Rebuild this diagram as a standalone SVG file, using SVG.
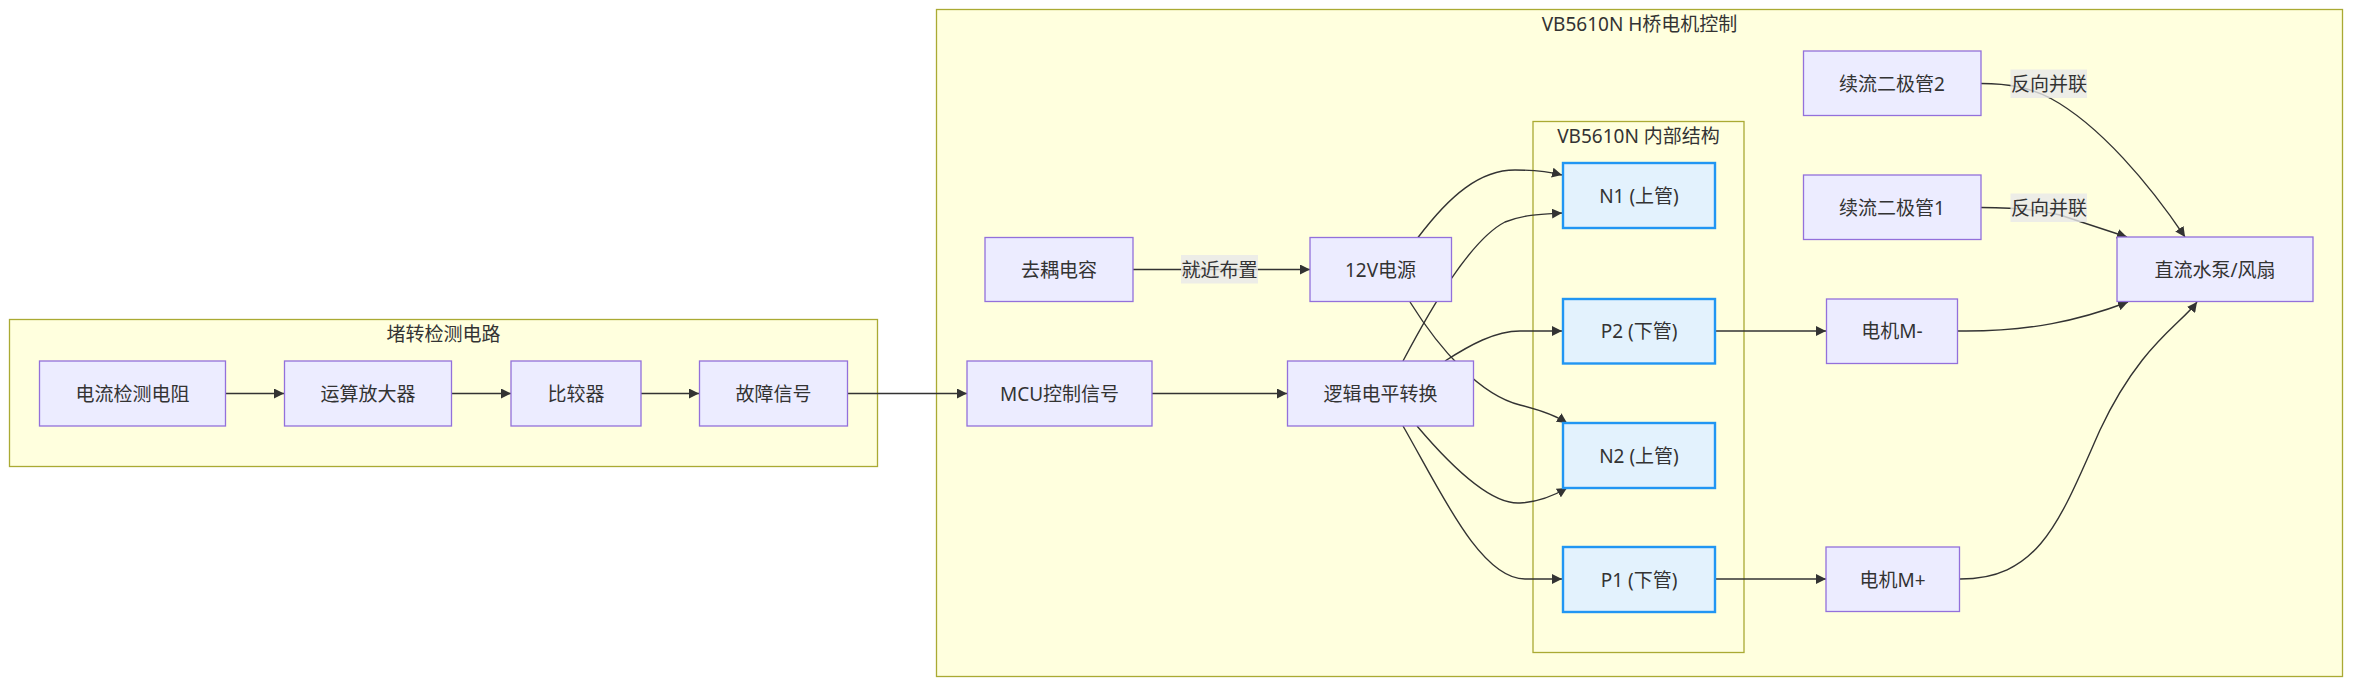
<svg xmlns="http://www.w3.org/2000/svg" width="2368" height="692" viewBox="0 0 2368 692">
<defs>
<style>
.cluster{fill:#ffffde;stroke:#aaaa33;stroke-width:1.3}
.node rect{fill:#ececff;stroke:#9370db;stroke-width:1.3}
.node.blue rect{fill:#e3f2fd;stroke:#2196f3;stroke-width:2.4}
text{font-family:"Noto Sans","Noto Sans CJK SC",sans-serif;font-size:19px;fill:#333333;text-anchor:middle;dominant-baseline:central}
.edge{fill:none;stroke:#333333;stroke-width:1.4}
.lblbg{fill:rgba(232,232,232,0.8)}
</style>
<marker id="arr" viewBox="0 0 10 10" refX="10" refY="5" markerUnits="userSpaceOnUse" markerWidth="10" markerHeight="10" orient="auto">
<path d="M0,0 L10,5 L0,10 z" fill="#333333"/>
</marker>
</defs>
<rect width="2368" height="692" fill="#ffffff"/>
<g id="clusters">
<g id="cluster-stall">
<rect class="cluster" x="9.5" y="319.5" width="868" height="147"/>
<text x="443.5" y="333.5">堵转检测电路</text>
</g>
<g id="cluster-hbridge">
<rect class="cluster" x="936.5" y="9.5" width="1406" height="667"/>
<text x="1639.5" y="23.5">VB5610N H桥电机控制</text>
</g>
<g id="cluster-internal">
<rect class="cluster" x="1533" y="121.5" width="211" height="531"/>
<text x="1638.5" y="135.5">VB5610N 内部结构</text>
</g>
</g>
<g id="connectors">
<path class="edge" d="M226,393.5 L284,393.5" marker-end="url(#arr)"/>
<path class="edge" d="M452,393.5 L511,393.5" marker-end="url(#arr)"/>
<path class="edge" d="M641,393.5 L699,393.5" marker-end="url(#arr)"/>
<path class="edge" d="M848,393.5 L967,393.5" marker-end="url(#arr)"/>
<path class="edge" d="M1152,393.5 L1287,393.5" marker-end="url(#arr)"/>
<path class="edge" d="M1133,269.5 L1310,269.5" marker-end="url(#arr)"/>
<path class="edge" d="M1418,237.5 C1450,195 1480,170 1515,170 C1535,170 1550,172 1562,175" marker-end="url(#arr)"/>
<path class="edge" d="M1403,361 C1430,310 1470,240 1505,222 C1525,214 1545,214 1562,213" marker-end="url(#arr)"/>
<path class="edge" d="M1410,302 C1440,350 1480,395 1520,405 C1540,410 1555,415 1567,423" marker-end="url(#arr)"/>
<path class="edge" d="M1445,361 C1470,345 1495,331 1520,331 L1562,331" marker-end="url(#arr)"/>
<path class="edge" d="M1417,426 C1450,465 1490,505 1520,503 C1540,502 1555,495 1567,488" marker-end="url(#arr)"/>
<path class="edge" d="M1403,426 C1440,490 1480,579 1525,579 L1562,579" marker-end="url(#arr)"/>
<path class="edge" d="M1715,331 L1826,331" marker-end="url(#arr)"/>
<path class="edge" d="M1715,579 L1826,579" marker-end="url(#arr)"/>
<path class="edge" d="M1958,331 C2030,332 2080,320 2128,302" marker-end="url(#arr)"/>
<path class="edge" d="M1960,579 C2040,579 2060,520 2100,430 C2140,345 2180,325 2197,302" marker-end="url(#arr)"/>
<path class="edge" d="M1981,83.5 C2010,83.5 2030,88 2050,98 C2100,125 2150,185 2185,237" marker-end="url(#arr)"/>
<path class="edge" d="M1981,207.5 C2020,207.5 2040,210 2060,215 L2127,237" marker-end="url(#arr)"/>
<g id="edge-labels">
<rect class="lblbg" x="1181" y="255" width="77" height="28.5"/>
<text x="1219.5" y="269.5">就近布置</text>
<rect class="lblbg" x="2010.5" y="69.5" width="76.5" height="28.5"/>
<text x="2049" y="83.5">反向并联</text>
<rect class="lblbg" x="2010.5" y="193.5" width="76.5" height="28.5"/>
<text x="2049" y="207.5">反向并联</text>
</g>
</g>
<g id="node-res" class="node"><rect x="39.5" y="361" width="186" height="65"/><text x="132.5" y="393.5">电流检测电阻</text></g>
<g id="node-opamp" class="node"><rect x="284.5" y="361" width="167" height="65"/><text x="368" y="393.5">运算放大器</text></g>
<g id="node-comp" class="node"><rect x="511" y="361" width="130" height="65"/><text x="576" y="393.5">比较器</text></g>
<g id="node-fault" class="node"><rect x="699.5" y="361" width="148" height="65"/><text x="773.5" y="393.5">故障信号</text></g>
<g id="node-mcu" class="node"><rect x="967" y="361" width="185" height="65"/><text x="1059.5" y="393.5">MCU控制信号</text></g>
<g id="node-logic" class="node"><rect x="1287.5" y="361" width="186" height="65"/><text x="1380.5" y="393.5">逻辑电平转换</text></g>
<g id="node-cap" class="node"><rect x="985" y="237.5" width="148" height="64"/><text x="1059" y="269.5">去耦电容</text></g>
<g id="node-12v" class="node"><rect x="1310" y="237.5" width="141.5" height="64"/><text x="1380.5" y="269.5">12V电源</text></g>
<g id="node-n1" class="node blue"><rect x="1563" y="163" width="152" height="65"/><text x="1639" y="195.5">N1 (上管)</text></g>
<g id="node-p2" class="node blue"><rect x="1563" y="299" width="152" height="64.5"/><text x="1639" y="331">P2 (下管)</text></g>
<g id="node-n2" class="node blue"><rect x="1563" y="423" width="152" height="65"/><text x="1639" y="455.5">N2 (上管)</text></g>
<g id="node-p1" class="node blue"><rect x="1563" y="547" width="152" height="65"/><text x="1639" y="579.5">P1 (下管)</text></g>
<g id="node-d2" class="node"><rect x="1803.5" y="51" width="177.5" height="64.5"/><text x="1892" y="83.5">续流二极管2</text></g>
<g id="node-d1" class="node"><rect x="1803.5" y="175" width="177.5" height="64.5"/><text x="1892" y="207.5">续流二极管1</text></g>
<g id="node-mminus" class="node"><rect x="1826.5" y="299" width="131" height="64.5"/><text x="1892" y="331">电机M-</text></g>
<g id="node-mplus" class="node"><rect x="1826" y="547" width="133.5" height="64.5"/><text x="1892.5" y="579.5">电机M+</text></g>
<g id="node-pump" class="node"><rect x="2117" y="237" width="196" height="64.5"/><text x="2215" y="269.5">直流水泵/风扇</text></g>
</svg>
